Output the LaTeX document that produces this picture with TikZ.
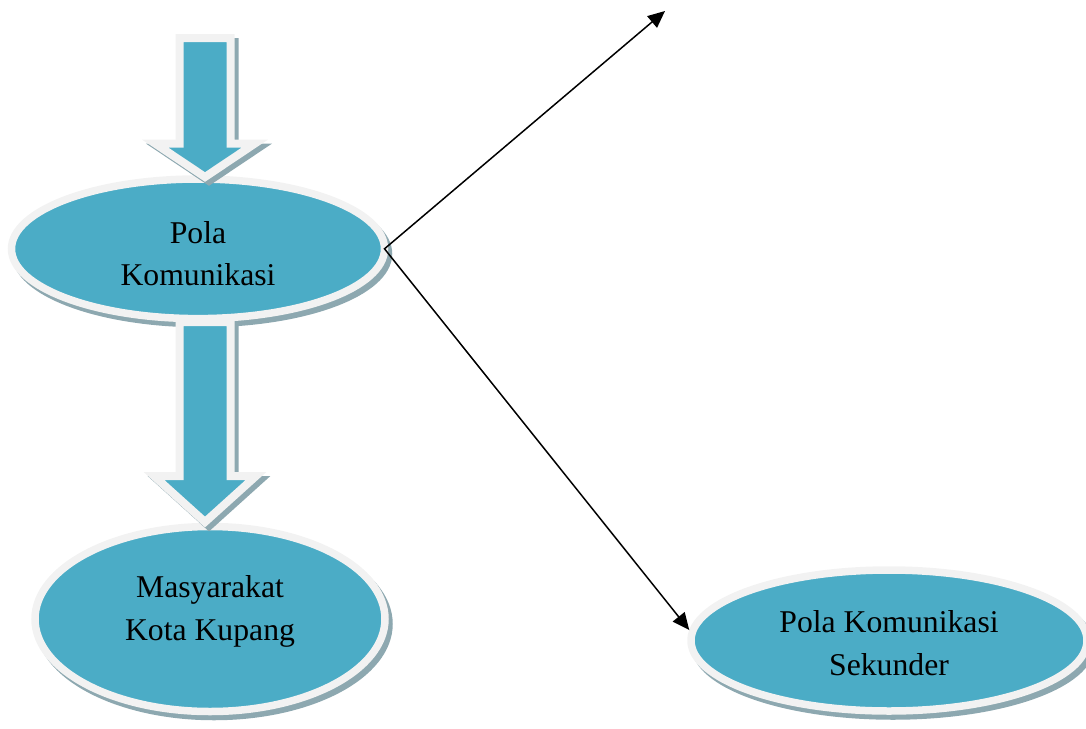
\documentclass[tikz,border=0pt]{standalone}
\usepackage{fontspec}
\setmainfont{Liberation Serif}
\usetikzlibrary{shapes.geometric,arrows.meta,calc}
\definecolor{fillblue}{RGB}{75,172,198}
\definecolor{rimwhite}{RGB}{242,242,242}
\definecolor{shadowgray}{RGB}{141,168,176}
% block arrow outline: #1 top, #2 tip, #3 head depth, #4 wing half width
\newcommand{\blockpath}[4]{($(#1)+(-25.5,0)$) -- ($(#1)+(25.5,0)$) -- ($(#2)+(25.5,-#3)$) -- ($(#2)+(#4,-#3)$) -- (#2) -- ($(#2)+(-#4,-#3)$) -- ($(#2)+(-25.5,-#3)$) -- cycle}
\begin{document}
\begin{tikzpicture}[x=1pt,y=-1pt,
  bubble/.style={ellipse, fill=fillblue, draw=rimwhite, line width=7.5pt, inner sep=0pt, outer sep=0pt,
     preaction={draw=shadowgray, fill=shadowgray, line width=7.5pt, transform canvas={xshift=4pt,yshift=-5pt}}},
  txt/.style={font=\fontsize{31.7}{42.7}\selectfont, align=center, inner sep=0pt, text=black},
  link/.style={draw=black, line width=1.5pt, line join=miter, {Triangle[length=17pt,width=15pt]}-{Triangle[length=17pt,width=15pt]}},
  blk/.style={fill=fillblue, draw=rimwhite, line width=8pt, line join=miter, miter limit=20},
  blkshadow/.style={fill=shadowgray, draw=shadowgray, line width=8pt, line join=miter, miter limit=20, transform canvas={xshift=4pt,yshift=-4pt}}
]
\useasboundingbox (0,0) rectangle (1086,728);
% ellipses
\node[bubble, minimum width=373pt, minimum height=139.6pt] (e1) at (198,248.8) {};
\node[bubble, minimum width=350pt, minimum height=185pt] (e2) at (210,619) {};
\node[bubble, minimum width=396pt, minimum height=141pt, outer sep=3.75pt] (e3) at (889,640.5) {};
% texts
\node[txt] (t1) at (198,253.8) {Pola\\Komunikasi};
\node[txt] (t2) at (210,611.3) {Masyarakat\\Kota Kupang};
\node[txt] (t3) at (889,643.1) {Pola Komunikasi\\Sekunder};
% block arrows
\coordinate (a1s) at (205,38);
\coordinate (a1e) at (205,177);
\coordinate (a2s) at (205,322);
\coordinate (a2e) at (205,522);
\path[blkshadow] \blockpath{a1s}{a1e}{33.5}{50};
\path[blk] \blockpath{a1s}{a1e}{33.5}{50};
\path[blkshadow] \blockpath{a2s}{a2e}{46}{51};
\path[blk] \blockpath{a2s}{a2e}{46}{51};
% connectors
\coordinate (top) at (665,11);
\draw[link] (top) -- (e1.east) -- (e3.177);
\end{tikzpicture}
\end{document}
